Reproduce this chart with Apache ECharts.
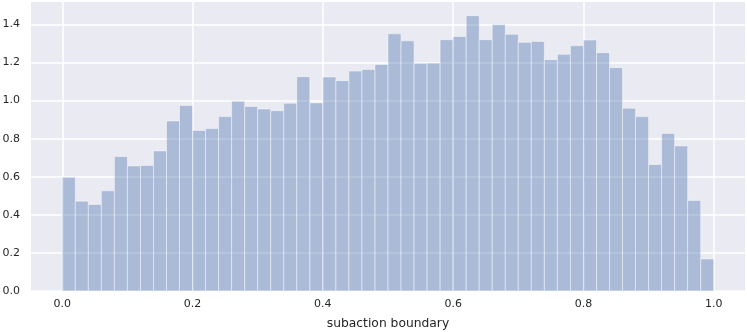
<!DOCTYPE html>
<html>
<head>
<meta charset="utf-8">
<script src="https://cdn.jsdelivr.net/npm/echarts@6/dist/echarts.min.js"></script>
<style>
  html, body { margin: 0; padding: 0; background: #fff; }
  #chart { width: 747px; height: 332px; }
</style>
</head>
<body>
<div id="chart"></div>
<script>
// histogram: 50 bins over [0, 1]
var binStart = 0;
var binWidth = 0.02;
var density = [
    0.598, 0.472, 0.455, 0.526, 0.706, 0.657, 0.659, 0.736, 0.893, 0.975,
    0.843, 0.853, 0.916, 0.997, 0.969, 0.956, 0.947, 0.986, 1.126, 0.988,
    1.124, 1.105, 1.155, 1.164, 1.190, 1.351, 1.314, 1.196, 1.197, 1.320,
    1.337, 1.446, 1.320, 1.400, 1.348, 1.306, 1.311, 1.215, 1.243, 1.288,
    1.318, 1.252, 1.173, 0.960, 0.916, 0.664, 0.827, 0.762, 0.476, 0.168
];
var xTicks = [0, 0.2, 0.4, 0.6, 0.8, 1.0];
var yTicks = [0, 0.2, 0.4, 0.6, 0.8, 1.0, 1.2, 1.4];

var chart = echarts.init(document.getElementById('chart'));

var bins = density.map(function (v, i) {
    var x0 = binStart + i * binWidth;
    return [x0, x0 + binWidth, v];
});

var labelStyle = {
    color: '#262626',
    fontSize: 11,
    fontFamily: 'DejaVu Sans'
};

var option = {
    backgroundColor: '#ffffff',
    animation: false,
    grid: {
        left: 31,
        right: 2,
        top: 2,
        bottom: 41,
        outerBoundsMode: 'none',
        containLabel: false,
        show: true,
        backgroundColor: '#eaeaf2',
        borderWidth: 0
    },
    xAxis: {
        type: 'value',
        min: -0.048,
        max: 1.048,
        name: 'subaction boundary',
        nameLocation: 'middle',
        nameGap: 27,
        nameTextStyle: { color: '#262626', fontSize: 12.3, fontFamily: 'DejaVu Sans' },
        axisLine: { show: false },
        axisTick: { show: false, customValues: xTicks },
        axisLabel: Object.assign({
            customValues: xTicks,
            margin: 8,
            formatter: function (v) { return v.toFixed(1); }
        }, labelStyle),
        splitLine: { show: true, lineStyle: { color: '#ffffff', width: 1.5 } }
    },
    yAxis: {
        type: 'value',
        min: 0,
        max: 1.518,
        axisLine: { show: false },
        axisTick: { show: false, customValues: yTicks },
        axisLabel: Object.assign({
            customValues: yTicks,
            margin: 11,
            formatter: function (v) { return v.toFixed(1); }
        }, labelStyle),
        splitLine: { show: true, lineStyle: { color: '#ffffff', width: 1.5 } }
    },
    series: [
        {
            type: 'custom',
            data: bins,
            encode: { x: [0, 1], y: 2 },
            renderItem: function (params, api) {
                var p0 = api.coord([api.value(0), api.value(2)]);
                var p1 = api.coord([api.value(1), 0]);
                return {
                    type: 'rect',
                    shape: { x: p0[0], y: p0[1], width: p1[0] - p0[0], height: p1[1] - p0[1] },
                    style: {
                        fill: 'rgba(76,114,176,0.4)',
                        stroke: 'rgba(255,255,255,0.45)',
                        lineWidth: 1
                    }
                };
            }
        }
    ]
};
chart.setOption(option);
</script>
</body>
</html>
